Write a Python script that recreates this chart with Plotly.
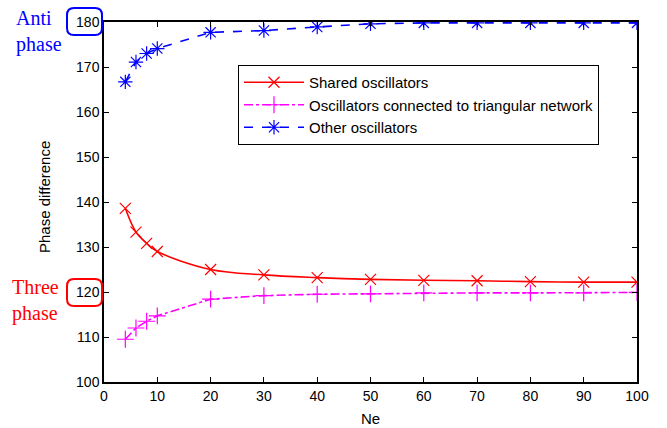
import plotly.graph_objects as go

ne = [4, 6, 8, 10, 20, 30, 40, 50, 60, 70, 80, 90, 100]
shared = [138.6, 133.3, 130.8, 129.0, 125.0, 123.8, 123.2, 122.8, 122.6, 122.5, 122.3, 122.2, 122.2]
triangular = [109.5, 112.0, 113.5, 114.7, 118.4, 119.2, 119.5, 119.6, 119.8, 119.8, 119.8, 119.8, 119.9]
other = [166.7, 171.1, 173.0, 174.1, 177.7, 178.1, 178.9, 179.6, 179.8, 179.8, 179.8, 179.8, 179.8]

names = ["Shared oscillators", "Oscillators connected to triangular network", "Other oscillators"]
x_ticks = list(range(0, 101, 10))
y_ticks = list(range(100, 181, 10))

W, H = 667, 428
L, R, T, B = 104, 30, 22, 46
PW, PH = W - L - R, H - T - B

def px(x):
    return (x - L) / PW

def py(y):
    return (H - B - y) / PH

fig = go.Figure()
fig.add_trace(go.Scatter(x=ne, y=shared, name=names[0], mode="lines+markers",
                         line=dict(color="#ff0000", width=1.6, shape="spline"),
                         marker=dict(symbol="x-thin", size=11, color="#ff0000",
                                     line=dict(color="#ff0000", width=1.2))))
fig.add_trace(go.Scatter(x=ne, y=triangular, name=names[1], mode="lines+markers",
                         line=dict(color="#ff00ff", width=1.6, dash="dashdot"),
                         marker=dict(symbol="cross-thin", size=12, color="#ff00ff",
                                     line=dict(color="#ff00ff", width=1.2))))
fig.add_trace(go.Scatter(x=ne, y=other, name=names[2], mode="lines+markers",
                         line=dict(color="#0000ff", width=1.6, dash="dash"),
                         marker=dict(symbol="asterisk-open", size=12, color="#0000ff",
                                     line=dict(color="#0000ff", width=1.2))))

axis_common = dict(showline=True, linecolor="black", linewidth=1.5, mirror="ticks",
                   ticks="inside", ticklen=5, tickcolor="black", showgrid=False,
                   zeroline=False, tickfont=dict(family="Liberation Sans, Arial", size=14, color="black"))
fig.update_xaxes(range=[0, 100], tickvals=x_ticks, **axis_common)
fig.update_yaxes(range=[100, 180], tickvals=y_ticks, **axis_common)

def rounded(x0, y0, x1, y1, r=7):
    # pixel coords -> paper path with rounded corners
    X0, X1 = px(x0), px(x1)
    Y0, Y1 = py(y1), py(y0)  # bottom, top in paper
    rx, ry = r / PW, r / PH
    return (f"M {X0+rx} {Y1} L {X1-rx} {Y1} Q {X1} {Y1} {X1} {Y1-ry} "
            f"L {X1} {Y0+ry} Q {X1} {Y0} {X1-rx} {Y0} L {X0+rx} {Y0} "
            f"Q {X0} {Y0} {X0} {Y0+ry} L {X0} {Y1-ry} Q {X0} {Y1} {X0+rx} {Y1} Z")

fig.add_shape(type="path", xref="paper", yref="paper", path=rounded(67, 8, 102, 35),
              line=dict(color="#0000ff", width=2))
fig.add_shape(type="path", xref="paper", yref="paper", path=rounded(67, 279, 102, 306),
              line=dict(color="#ff0000", width=2))

fig.add_annotation(text="Anti<br>phase", xref="paper", yref="paper", x=px(14), y=py(31),
                   xanchor="left", yanchor="middle", align="left", showarrow=False,
                   font=dict(family="Liberation Serif, Times New Roman", size=20, color="#0000ff"))
fig.add_annotation(text="Three<br>phase", xref="paper", yref="paper", x=px(10), y=py(300),
                   xanchor="left", yanchor="middle", align="left", showarrow=False,
                   font=dict(family="Liberation Serif, Times New Roman", size=20, color="#ff0000"))
fig.add_annotation(text="Phase difference", xref="paper", yref="paper", x=px(44), y=py(197),
                   textangle=-90, showarrow=False, xanchor="center", yanchor="middle",
                   font=dict(family="Liberation Sans, Arial", size=15, color="black"))
fig.add_annotation(text="Ne", xref="paper", yref="paper", x=0.5, y=py(418),
                   showarrow=False, xanchor="center", yanchor="middle",
                   font=dict(family="Liberation Sans, Arial", size=15, color="black"))

fig.update_layout(
    width=W, height=H, margin=dict(l=L, r=R, t=T, b=B),
    paper_bgcolor="white", plot_bgcolor="white",
    legend=dict(x=px(238), y=py(65), xanchor="left", yanchor="top",
                bgcolor="white", bordercolor="black", borderwidth=1,
                font=dict(family="Liberation Sans, Arial", size=15, color="black"),
                tracegroupgap=0, itemwidth=60),
    showlegend=True,
)

fig.write_html("out.html")
